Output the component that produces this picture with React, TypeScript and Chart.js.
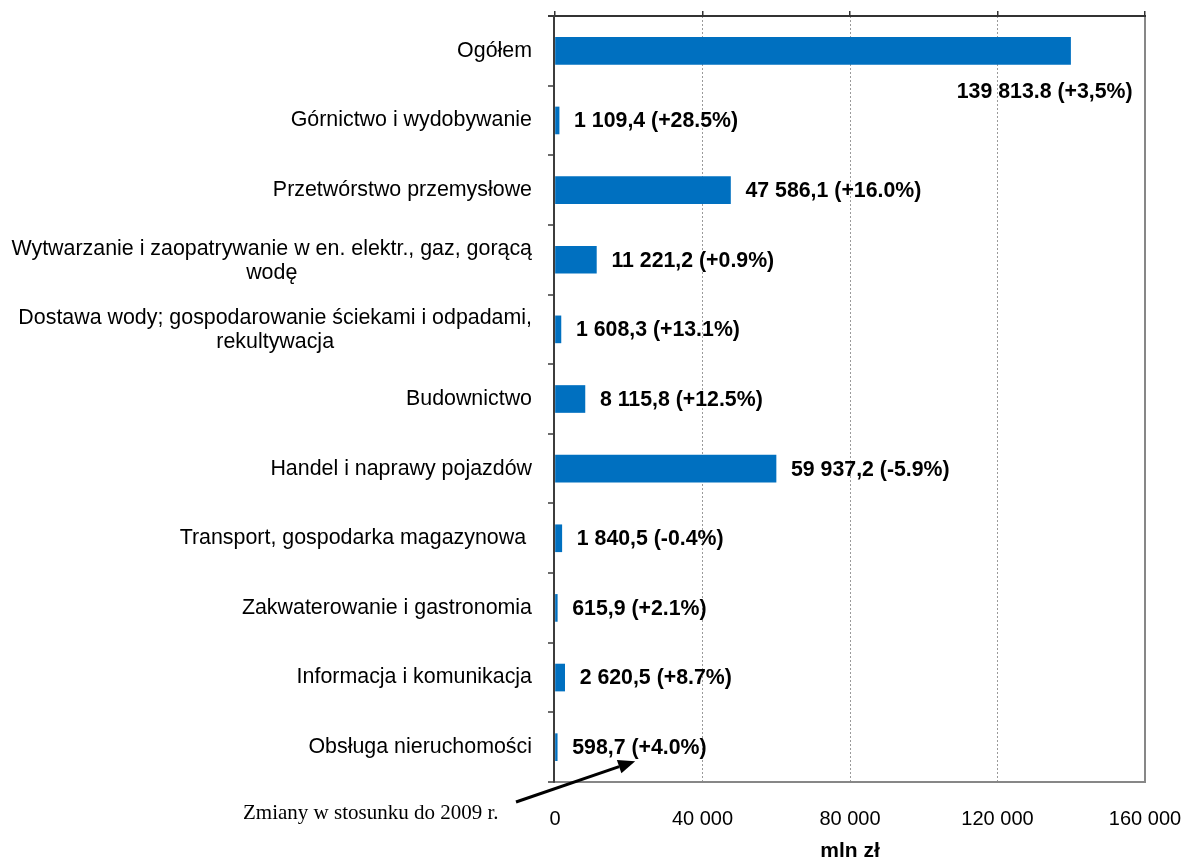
import React, { useEffect, useRef } from "react";
import { Chart, registerables } from "chart.js";

Chart.register(...registerables);

const categories: string[][] = [
  ["Ogółem"],
  ["Górnictwo i wydobywanie"],
  ["Przetwórstwo przemysłowe"],
  ["Wytwarzanie i zaopatrywanie w en. elektr., gaz, gorącą", "wodę"],
  ["Dostawa wody; gospodarowanie ściekami i odpadami,", "rekultywacja"],
  ["Budownictwo"],
  ["Handel i naprawy pojazdów"],
  ["Transport, gospodarka magazynowa "],
  ["Zakwaterowanie i gastronomia"],
  ["Informacja i komunikacja"],
  ["Obsługa nieruchomości"],
];

const values: number[] = [
  139813.8, 1109.4, 47586.1, 11221.2, 1608.3, 8115.8, 59937.2, 1840.5, 615.9, 2620.5, 598.7,
];

const valueTexts: string[] = [
  "139 813.8",
  "1 109,4",
  "47 586,1",
  "11 221,2",
  "1 608,3",
  "8 115,8",
  "59 937,2",
  "1 840,5",
  "615,9",
  "2 620,5",
  "598,7",
];

const changeTexts: string[] = [
  "+3,5%",
  "+28.5%",
  "+16.0%",
  "+0.9%",
  "+13.1%",
  "+12.5%",
  "-5.9%",
  "-0.4%",
  "+2.1%",
  "+8.7%",
  "+4.0%",
];

const xTicks: number[] = [0, 40000, 80000, 120000, 160000];
const axisTitle = "mln zł";
const noteText = "Zmiany w stosunku do 2009 r.";

const SANS = "'Liberation Sans', Arial, sans-serif";
const SERIF = "'Liberation Serif', 'Times New Roman', serif";

const fmt = (v: number) => String(v).replace(/\B(?=(\d{3})+(?!\d))/g, " ");

const decorPlugin = {
  id: "decor",
  afterDraw(chart: any) {
    const ctx = chart.ctx as CanvasRenderingContext2D;
    const area = chart.chartArea;
    const xs = chart.scales.x;
    const ys = chart.scales.y;
    const n = categories.length;
    ctx.save();

    // gray plot border (right and bottom)
    ctx.fillStyle = "#878787";
    ctx.fillRect(area.right - 1, area.top, 2, area.bottom - area.top + 1);
    ctx.fillRect(area.left - 2, area.bottom - 1, area.right - area.left + 3, 2);

    // dark top axis line with ticks
    ctx.fillStyle = "#333333";
    ctx.fillRect(area.left - 7, area.top - 1, area.right - area.left + 8, 2);
    xTicks.forEach((v) => {
      const px = xs.getPixelForValue(v);
      ctx.fillRect(Math.round(px) - 1, area.top - 5, 1.5, 5);
    });

    // dark left axis with category boundary ticks
    ctx.fillStyle = "#3c3c3c";
    ctx.fillRect(area.left - 2, area.top - 1, 2, area.bottom - area.top + 1);
    for (let i = 0; i <= n; i++) {
      let y: number;
      if (i === 0) y = area.top;
      else if (i === n) y = area.bottom;
      else y = (ys.getPixelForValue(i - 1) + ys.getPixelForValue(i)) / 2;
      ctx.fillRect(area.left - 7, Math.round(y) - 0.75, 7, 1.5);
    }

    // category labels
    ctx.fillStyle = "#000";
    ctx.font = `21.4px ${SANS}`;
    ctx.textBaseline = "middle";
    const rightEdge = area.left - 23;
    categories.forEach((lines, i) => {
      const cy = ys.getPixelForValue(i);
      if (lines.length === 1) {
        ctx.textAlign = "right";
        ctx.fillText(lines[0], rightEdge, cy);
      } else {
        const maxW = Math.max(...lines.map((l) => ctx.measureText(l).width));
        const cx = rightEdge - maxW / 2;
        ctx.textAlign = "center";
        lines.forEach((l, j) => {
          ctx.fillText(l, cx, cy + 1 + (j - (lines.length - 1) / 2) * 24);
        });
      }
    });

    // value labels
    const meta = chart.getDatasetMeta(0);
    ctx.font = `bold 21.3px ${SANS}`;
    meta.data.forEach((bar: any, i: number) => {
      const text = `${valueTexts[i]} (${changeTexts[i]})`;
      if (i === 0) {
        ctx.textAlign = "right";
        ctx.fillText(text, bar.x + 62, bar.y + 41);
      } else {
        ctx.textAlign = "left";
        ctx.fillText(text, bar.x + 15, bar.y + 1);
      }
    });

    // note with arrow pointing at last value label
    const last = meta.data[n - 1];
    const tipX = last.x + 78;
    const tipY = last.y + 14;
    const startX = 516;
    const startY = 802;
    ctx.font = `21px ${SERIF}`;
    ctx.textAlign = "left";
    ctx.textBaseline = "alphabetic";
    ctx.fillStyle = "#000";
    ctx.fillText(noteText, 243, 819);

    const ang = Math.atan2(tipY - startY, tipX - startX);
    const headLen = 17;
    const headHalf = 7;
    const bx = tipX - headLen * Math.cos(ang);
    const by = tipY - headLen * Math.sin(ang);
    ctx.strokeStyle = "#000";
    ctx.lineWidth = 3;
    ctx.beginPath();
    ctx.moveTo(startX, startY);
    ctx.lineTo(bx, by);
    ctx.stroke();
    ctx.beginPath();
    ctx.moveTo(tipX, tipY);
    ctx.lineTo(bx + headHalf * Math.sin(ang), by - headHalf * Math.cos(ang));
    ctx.lineTo(bx - headHalf * Math.sin(ang), by + headHalf * Math.cos(ang));
    ctx.closePath();
    ctx.fillStyle = "#000";
    ctx.fill();

    ctx.restore();
  },
};

export default function App() {
  const ref = useRef<HTMLCanvasElement | null>(null);

  useEffect(() => {
    if (!ref.current) return;
    const chart = new Chart(ref.current, {
      type: "bar",
      data: {
        labels: categories.map((c) => c.join(" ")),
        datasets: [
          {
            data: values,
            backgroundColor: "#0070C0",
            borderWidth: 0,
            barThickness: 27,
          },
        ],
      },
      options: {
        indexAxis: "y",
        responsive: false,
        animation: false,
        devicePixelRatio: 1,
        layout: { padding: { top: 16, right: 41, left: 0, bottom: 0 } },
        plugins: {
          legend: { display: false },
          tooltip: { enabled: false },
        },
        scales: {
          x: {
            type: "linear",
            position: "bottom",
            min: 0,
            max: 160000,
            afterBuildTicks: (scale: any) => {
              scale.ticks = xTicks.map((v) => ({ value: v }));
            },
            afterFit: (scale: any) => {
              scale.height = 82;
              scale.paddingLeft = 0;
              scale.paddingRight = 0;
            },
            ticks: {
              padding: 25,
              color: "#000",
              font: { family: SANS, size: 20 },
              maxRotation: 0,
              autoSkip: false,
              callback: (v: any) => fmt(Number(v)),
            },
            grid: {
              drawTicks: false,
              drawOnChartArea: true,
              lineWidth: 1,
              color: (c: any) =>
                c.tick && (c.tick.value === 0 || c.tick.value === 160000)
                  ? "rgba(0,0,0,0)"
                  : "#9a9a9a",
            },
            border: { display: false, dash: [2, 2] },
            title: {
              display: true,
              text: axisTitle,
              color: "#000",
              font: { family: SANS, size: 21, weight: "bold" },
              padding: 0,
            },
          },
          y: {
            type: "category",
            position: "left",
            afterFit: (scale: any) => {
              scale.width = 555;
              scale.paddingTop = 0;
              scale.paddingBottom = 0;
            },
            ticks: { display: false },
            grid: { display: false, drawTicks: false },
            border: { display: false },
          },
        },
      },
      plugins: [decorPlugin],
    } as any);
    return () => chart.destroy();
  }, []);

  return (
    <div style={{ position: "fixed", left: 0, top: 0, width: 1186, height: 864, background: "#fff" }}>
      <canvas ref={ref} width={1186} height={864} style={{ display: "block", width: 1186, height: 864 }} />
    </div>
  );
}
